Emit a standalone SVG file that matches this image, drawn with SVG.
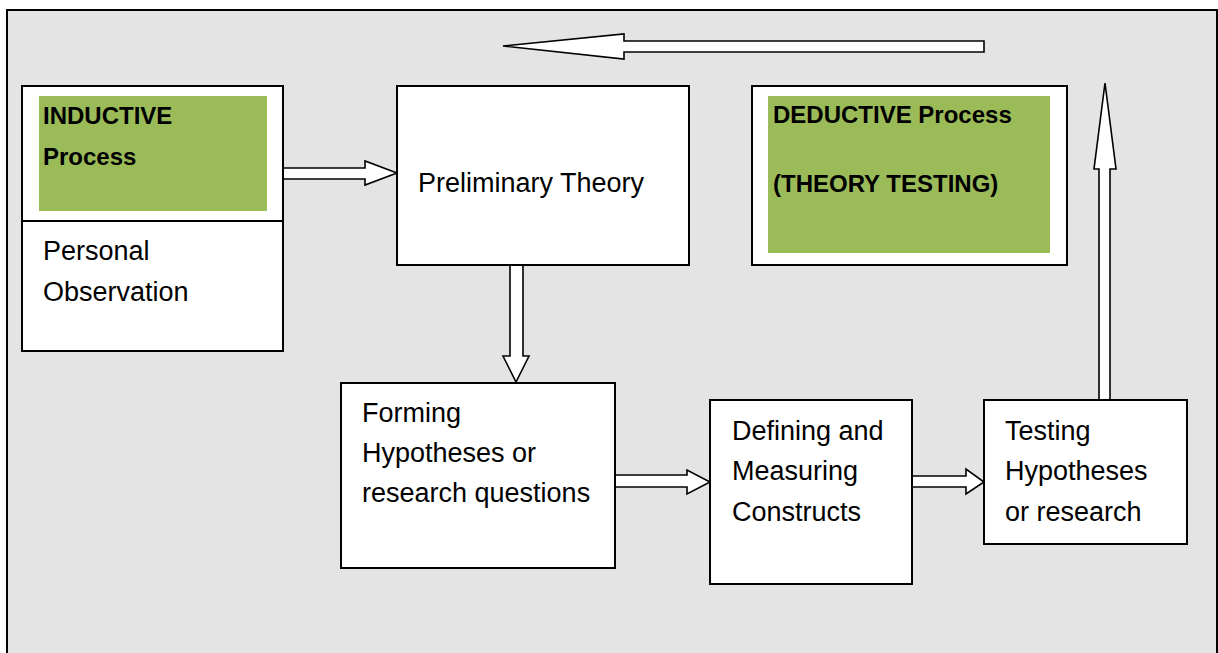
<svg xmlns="http://www.w3.org/2000/svg" width="1218" height="653" viewBox="0 0 1218 653">
<style>
.box{fill:#ffffff;stroke:#000;stroke-width:2}
.green{fill:#9bbb59}
.arr{fill:#ffffff;stroke:#000;stroke-width:1.6;stroke-linejoin:miter}
.t{font-family:"Liberation Sans",Arial,sans-serif;font-size:27px;fill:#000}
.b{font-family:"Liberation Sans",Arial,sans-serif;font-size:24px;font-weight:bold;fill:#000}
</style>
<rect x="0" y="0" width="1218" height="653" fill="#ffffff"/>
<rect x="7" y="10" width="1210" height="660" fill="#e4e4e4" stroke="#000" stroke-width="2"/>
<g id="connectors">
<path class="arr" d="M984,41 L624,41 L624,34 L503,46 L624,59 L624,52 L984,52 Z"/>
<path class="arr" d="M267,168 L365,168 L365,161 L397,173 L365,185 L365,179 L267,179 Z"/>
<path class="arr" d="M510,265 L510,356 L503,356 L516,382 L529,356 L523,356 L523,265 Z"/>
<path class="arr" d="M615,475 L687,475 L687,470 L710,482 L687,494 L687,487 L615,487 Z"/>
<path class="arr" d="M912,476 L966,476 L966,469 L984,482 L966,494 L966,487 L912,487 Z"/>
<path class="arr" d="M1099,400 L1099,169 L1094,169 L1105,83 L1116,169 L1110,169 L1110,400 Z"/>
</g>
<g id="inductive">
<rect class="box" x="22" y="86" width="261" height="265"/>
<line x1="22" y1="221" x2="283" y2="221" stroke="#000" stroke-width="2"/>
<rect class="green" x="39" y="96" width="228" height="115"/>
<text class="b" x="43" y="124">INDUCTIVE</text>
<text class="b" x="43" y="165">Process</text>
<text class="t" x="43" y="260">Personal</text>
<text class="t" x="43" y="301">Observation</text>
</g>
<g id="preliminary">
<rect class="box" x="397" y="86" width="292" height="179"/>
<text class="t" x="418" y="192">Preliminary Theory</text>
</g>
<g id="deductive">
<rect class="box" x="752" y="86" width="315" height="179"/>
<rect class="green" x="768" y="96" width="282" height="157"/>
<text class="b" x="773" y="123">DEDUCTIVE Process</text>
<text class="b" x="773" y="192">(THEORY TESTING)</text>
</g>
<g id="forming">
<rect class="box" x="341" y="383" width="274" height="185"/>
<text class="t" x="362" y="422">Forming</text>
<text class="t" x="362" y="462">Hypotheses or</text>
<text class="t" x="362" y="502">research questions</text>
</g>
<g id="defining">
<rect class="box" x="710" y="400" width="202" height="184"/>
<text class="t" x="732" y="440">Defining and</text>
<text class="t" x="732" y="480">Measuring</text>
<text class="t" x="732" y="521">Constructs</text>
</g>
<g id="testing">
<rect class="box" x="984" y="400" width="203" height="144"/>
<text class="t" x="1005" y="440">Testing</text>
<text class="t" x="1005" y="480">Hypotheses</text>
<text class="t" x="1005" y="521">or research</text>
</g>
</svg>
